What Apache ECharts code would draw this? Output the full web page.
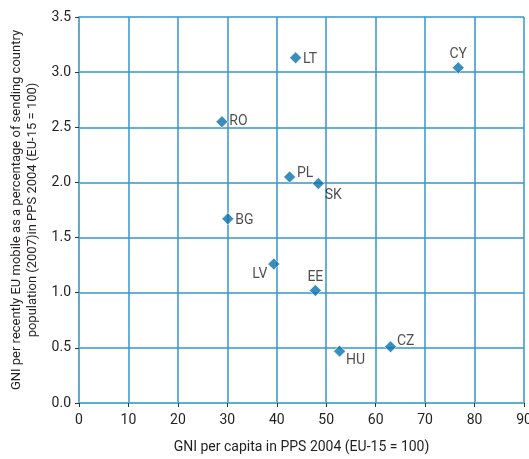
<!DOCTYPE html>
<html><head><meta charset="utf-8">
<script src="https://cdn.jsdelivr.net/npm/echarts@6/dist/echarts.min.js"></script>
<style>html,body{margin:0;padding:0;background:#fff}#c{width:529px;height:459px}</style>
</head><body><div id="c"></div>
<script>
const countries = ['LT','CY','RO','PL','SK','BG','LV','EE','HU','CZ'];
const gniPerCapita = [43.8, 76.7, 28.9, 42.6, 48.4, 30.1, 39.4, 47.8, 52.7, 63.0];
const gniMobile = [3.13, 3.04, 2.55, 2.05, 1.99, 1.67, 1.26, 1.02, 0.47, 0.51];
const xTicks = [0,10,20,30,40,50,60,70,80,90];
const yTicks = [0,0.5,1,1.5,2,2.5,3,3.5];

const labelPlace = {
  LT:{position:'right',offset:[-3,2]}, CY:{position:'top',offset:[0,4]}, RO:{position:'right',offset:[-3,0]},
  PL:{position:'right',offset:[-3,-3]}, SK:{position:'right',offset:[-4,12]}, BG:{position:'right',offset:[-3,2]},
  LV:{position:'left',offset:[4,10]}, EE:{position:'top',offset:[0,4]}, HU:{position:'right',offset:[-4,9]},
  CZ:{position:'right',offset:[-4,-5]}
};
const font = 'Roboto, sans-serif';
const txt = '#231f20';
const data = countries.map((c,i)=>({
  value:[gniPerCapita[i], gniMobile[i]], name:c,
  label:{show:true, formatter:c, position:labelPlace[c].position, offset:labelPlace[c].offset, distance:4,
         color:txt, fontFamily:font, fontSize:14}
}));
const chart = echarts.init(document.getElementById('c'), null, {renderer:'canvas'});
chart.setOption({
  animation:false,
  grid:{left:79, right:5, top:17, bottom:56, containLabel:false, outerBoundsMode:'none'},
  xAxis:{type:'value', min:xTicks[0], max:xTicks[xTicks.length-1], interval:10,
    name:'GNI per capita in PPS 2004 (EU-15 = 100)', nameLocation:'middle', nameGap:37,
    nameTextStyle:{color:txt, fontFamily:font, fontSize:14},
    axisLine:{show:true, lineStyle:{color:'#5aaed6', width:2}},
    axisTick:{show:true, length:4, lineStyle:{color:'#333'}},
    axisLabel:{color:txt, fontFamily:font, fontSize:14, margin:10, showMaxLabel:true},
    splitLine:{show:true, lineStyle:{color:'#3597cb', width:1.5}}},
  yAxis:{type:'value', min:yTicks[0], max:yTicks[yTicks.length-1], interval:0.5,
    name:'GNI per recently EU mobile as a percentage of sending country\npopulation (2007)in PPS 2004 (EU-15 = 100)',
    nameLocation:'middle', nameGap:31, nameRotate:90,
    nameTextStyle:{color:txt, fontFamily:font, fontSize:13, lineHeight:16, align:'center'},
    axisLine:{show:true, lineStyle:{color:'#5aaed6', width:2}},
    axisTick:{show:true, length:4, lineStyle:{color:'#333'}},
    axisLabel:{color:txt, fontFamily:font, fontSize:14, margin:8, formatter:v=>v.toFixed(1)},
    splitLine:{show:true, lineStyle:{color:'#3597cb', width:1.5}}},
  series:[{type:'scatter', symbol:'diamond', symbolSize:12, data:data,
    itemStyle:{color:'#0a72aa', borderColor:'#fff', borderWidth:0.8}}]
});
</script></body></html>
